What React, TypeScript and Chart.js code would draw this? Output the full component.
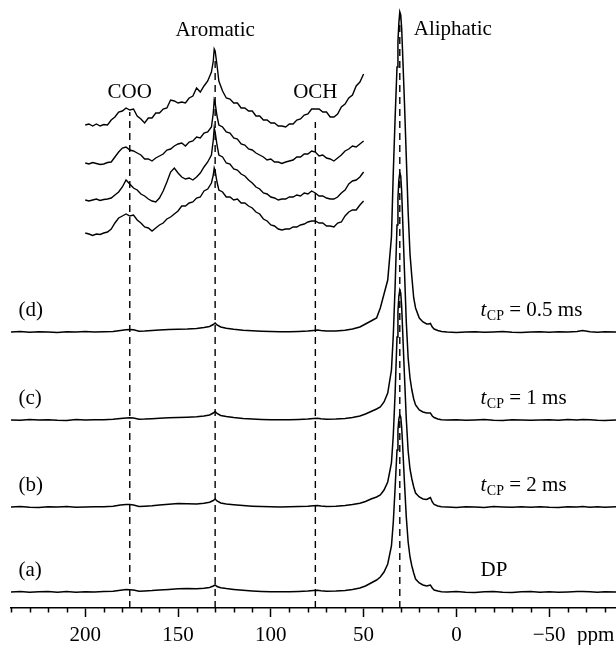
import React, { useEffect, useRef } from 'react';
import { Chart, registerables } from 'chart.js';

Chart.register(...registerables);

const FAMILY = '"Liberation Serif", "Times New Roman", serif';

// Chemical shift grid for the full spectra (ppm, high to low)
const ppm = [
  240, 235, 230, 225, 220, 215, 210, 205, 200, 195,
  190, 185, 181, 178, 176, 174, 171, 168, 164, 160,
  155, 150, 145, 140, 136, 133, 131, 130, 129, 127,
  124, 120, 115, 110, 105, 100, 95, 90, 85, 80,
  77, 75, 73, 70, 65, 60, 56, 52, 49, 46,
  43, 41, 39, 37, 35, 34, 33, 32, 31.5, 31,
  30.5, 30, 29.5, 29, 28, 27, 26, 25, 24, 23,
  22, 20, 18, 16, 15, 14, 13, 12, 10, 8,
  5, 0, -5, -10, -15, -20, -25, -30, -35, -40,
  -45, -50, -55, -60, -65, -68, -72, -76, -80, -86,
];

// (a) DP
const traceA = [
  0, 0.4, -0.3, 0.2, 0.5, -0.2, 0.4, -0.3, 0.3, 0,
  0.4, 0.8, 1.8, 2.5, 2.3, 2.0, 0.8, 1.0, 1.4, 2.0,
  2.6, 3.2, 3.4, 3.3, 3.8, 4.5, 6, 7, 5.5, 4.2,
  3.4, 2.6, 1.8, 1.1, 0.6, 0.3, 0.2, 0.3, 0.5, 0.9,
  1.4, 1.7, 1.2, 0.7, 0.9, 1.5, 2.6, 4, 6, 9,
  12, 15, 20, 28, 46, 70, 105, 142, 162, 173,
  177, 175, 165, 148, 110, 75, 50, 35, 26, 19,
  13, 9, 7, 6, 6.5, 7, 4, 2, 1, 0.3,
  0, 0.4, -0.2, -0.4, 0.2, 0.4, -0.2, -0.4, 0.2, 0.4,
  -0.2, 0.3, -0.3, 0, 0.4, 0.6, 0.2, -0.3, 0.3, 0,
];

// (b) tCP = 2 ms
const traceB = [
  0, 0.4, -0.2, -0.4, 0.3, -0.1, 0.4, -0.3, 0, 0.3,
  0.2, 0.8, 2.0, 2.6, 2.4, 2.0, 0.6, 0.8, 1.2, 2.0,
  2.8, 3.4, 3.2, 3.0, 3.8, 4.8, 6.5, 8, 6, 4,
  3, 2.2, 1.4, 0.8, 0.4, 0.2, 0, 0.2, 0.4, 0.8,
  1.3, 1.6, 1.1, 0.6, 0.8, 1.4, 2.4, 3.8, 5.5, 8,
  10, 12, 17, 25, 44, 72, 115, 170, 195, 211,
  217, 214, 201, 178, 132, 88, 56, 38, 28, 20,
  14, 10, 8, 7.5, 8.5, 9.5, 5, 2.5, 1, 0.3,
  0, -0.4, 0.3, 0, -0.4, 0.4, 0, -0.3, 0.3, -0.2,
  0.3, -0.2, -0.4, 0.3, 0, 0.5, -0.2, 0.3, -0.2, 0.2,
];

// (c) tCP = 1 ms
const traceC = [
  0, -0.3, 0.4, -0.1, 0.3, -0.2, -0.4, 0.4, 0, 0.3,
  0.3, 0.8, 1.5, 2.0, 2.2, 2.0, 0.8, 0.9, 1.3, 1.8,
  2.2, 2.5, 2.8, 3.2, 4.0, 5.0, 7, 8.5, 6.5, 4.5,
  3.4, 2.5, 1.6, 1.0, 0.6, 0.3, 0.2, 0.3, 0.5, 0.9,
  1.4, 1.8, 1.3, 0.8, 0.9, 1.5, 2.5, 4, 6, 8.5,
  11, 13, 18, 27, 50, 85, 135, 195, 222, 240,
  247, 244, 229, 203, 150, 98, 62, 42, 30, 21,
  15, 10, 8, 7, 7, 7, 4, 2.5, 1, 0.3,
  0, 0.3, -0.3, 0, 0.4, -0.2, -0.4, 0.3, 0, -0.3,
  0, 0.3, -0.2, 0.4, 0, 0.6, 0.2, -0.2, -0.4, 0,
];

// (d) tCP = 0.5 ms
const traceD = [
  0, 0.4, -0.3, 0.3, 0, -0.4, 0.3, -0.1, 0.4, 0,
  0.2, 0.6, 1.5, 2.2, 2.4, 2.2, 0.8, 1.0, 1.5, 2.0,
  2.4, 2.8, 3.0, 3.5, 4.5, 5.5, 7.5, 9, 7, 5,
  3.8, 2.8, 1.8, 1.2, 0.7, 0.4, 0.2, 0.3, 0.6, 1.0,
  1.6, 2, 1.4, 0.9, 1.1, 1.8, 3, 5, 8, 11,
  14, 24, 38, 52, 95, 160, 215, 265, 290, 309,
  320, 317, 304, 280, 230, 175, 120, 78, 55, 34,
  24, 14, 10, 8, 8, 8.5, 5, 3, 1.5, 0.5,
  0, -0.4, 0, 0.3, -0.3, 0, 0.4, -0.2, -0.4, 0,
  0.3, -0.2, 0.3, -0.1, 0.4, 1.5, 0.3, -0.2, 0.3, 0,
];

const traceOffsets = [16, 101, 188, 276];
const traceNames = ['(a)', '(b)', '(c)', '(d)'];
const traceConditions = ['DP', '2 ms', '1 ms', '0.5 ms'];

// Expanded region (inset) 200–50 ppm
const insetPpm = [
  200, 198, 196, 194, 192, 190, 188, 186, 184, 182,
  180, 178, 176, 174, 172, 170, 168, 166, 164, 162,
  160, 158, 156, 154, 152, 150, 148, 146, 144, 142,
  140, 138, 136, 134, 132, 131, 130.5, 130, 129,
  128, 126, 124, 122, 120, 118, 116, 114, 112, 110,
  108, 106, 104, 102, 100, 98, 96, 94, 92, 90,
  88, 86, 84, 82, 80, 78, 76, 74, 72, 70,
  68, 66, 64, 62, 60, 58, 56, 54, 52, 50,
];
const inset1 = [
  0, 1, -1, 1, -1, 0.5, 0, 5, 8, 13,
  14, 17, 15, 16, 9, 6, 2, 7, 7, 12,
  12, 16, 17, 25, 24, 22, 23, 22, 27, 29,
  37, 33, 39, 44, 53, 64, 76, 74, 60,
  44, 34, 27, 26, 22, 22, 17, 17, 14, 14,
  9, 9, 5, 5, 2, 2, -1, -1, -2, 1,
  1, 5, 6, 10, 11, 16, 16, 16, 13, 13,
  8, 8, 11, 18, 21, 27, 30, 39, 43, 51,
];
const inset2 = [
  0, -1, 0.5, -0.5, -1.5, -1, 0.5, 1, 6, 11,
  15, 16, 13, 12, 10, 8, 4, 4, 2, 5,
  7, 9, 13, 14, 17, 19, 20, 17, 21, 22,
  26, 25, 30, 31, 36, 50, 63, 60, 47,
  38, 36, 31, 30, 25, 24, 19, 18, 14, 13,
  10, 8, 6, 3, 4, 1, 1, -0.5, 1, 2,
  3, 6, 6, 9, 9, 12, 11, 7, 8, 5,
  4, 2, 5, 8, 12, 14, 17, 16, 19, 22,
];
const inset3 = [
  0, -1, 0, 1, -0.5, 0.5, 1, 2, 5, 8,
  13, 20, 16, 12, 10, 6, 4, 1, -1, -2,
  2, 9, 18, 28, 32, 27, 23, 21, 22, 20,
  23, 27, 33, 38, 45, 60, 72, 68, 55,
  45, 43, 37, 36, 31, 30, 26, 24, 20, 17,
  13, 11, 7, 6, 3, 2, 0, 1, 1, 3,
  3, 5, 4, 7, 6, 9, 7, 4, 4, 2,
  1, 1, 3, 7, 10, 16, 19, 20, 23, 28,
];
const inset4 = [
  0, -1, -2.5, -1, -1.5, 0, 1, 4, 10, 15,
  17, 19, 17, 18, 13, 10, 6, 5, 2, 5,
  8, 10, 14, 16, 19, 22, 27, 27, 30, 31,
  35, 36, 42, 44, 50, 58, 65, 62, 51,
  43, 41, 36, 36, 33, 34, 30, 30, 27, 25,
  21, 19, 14, 12, 8, 7, 4, 3, 4, 4,
  6, 6, 8, 9, 11, 12, 12, 10, 10, 7,
  7, 6, 10, 11, 17, 21, 23, 23, 28, 32,
];
const insetOffsets = [483, 445, 408, 375];

// Dashed guide lines
const markerPpm = [176, 130, 76, 30.5];
const markerTop = [496, 548, 486, 594];

// Region labels
const regionNames = ['COO', 'Aromatic', 'OCH', 'Aliphatic'];
const regionPpm = [176, 130, 76, 23];
const regionLevel = [516, 578, 516, 579];
const regionAlign: CanvasTextAlign[] = ['center', 'center', 'center', 'left'];

// Axis
const tickValues = [200, 150, 100, 50, 0, -50];
const tickLabels = ['200', '150', '100', '50', '0', '\u221250'];
const minorTicks = [240, 230, 220, 210, 190, 180, 170, 160, 140, 130, 120, 110, 90, 80, 70, 60, 40, 30, 20, 10, -10, -20, -30, -40, -60, -70, -80];
const unitLabel = 'ppm';
const unitPpm = -75;

const leftLabelPpm = 236;
const rightLabelPpm = -13;
const labelRise = 22;

const annotate = {
  id: 'annotate',
  afterDraw(chart: any) {
    const { ctx } = chart;
    const x = chart.scales.x;
    const y = chart.scales.y;
    ctx.save();
    ctx.fillStyle = '#000';
    ctx.strokeStyle = '#000';
    const axisY = x.top;
    ctx.lineWidth = 1.5;
    minorTicks.forEach((v) => {
      const px = Math.round(x.getPixelForValue(v)) + 0.5;
      ctx.beginPath();
      ctx.moveTo(px, axisY);
      ctx.lineTo(px, axisY + 4.5);
      ctx.stroke();
    });
    const FONT = `21px ${FAMILY}`;
    ctx.font = FONT;
    ctx.textBaseline = 'middle';
    ctx.textAlign = 'center';
    ctx.fillText(unitLabel, x.getPixelForValue(unitPpm), axisY + 27);

    regionNames.forEach((t, i) => {
      ctx.textAlign = regionAlign[i];
      ctx.fillText(t, x.getPixelForValue(regionPpm[i]), y.getPixelForValue(regionLevel[i]));
    });

    traceNames.forEach((t, i) => {
      const py = y.getPixelForValue(traceOffsets[i] + labelRise);
      ctx.font = FONT;
      ctx.textAlign = 'left';
      ctx.fillText(t, x.getPixelForValue(leftLabelPpm), py);
      const px = x.getPixelForValue(rightLabelPpm);
      const cond = traceConditions[i];
      if (cond === 'DP') {
        ctx.fillText('DP', px, py);
      } else {
        ctx.font = `italic 21px ${FAMILY}`;
        ctx.fillText('t', px, py);
        let w = ctx.measureText('t').width + 0.5;
        ctx.font = `14px ${FAMILY}`;
        ctx.fillText('CP', px + w, py + 6);
        w += ctx.measureText('CP').width;
        ctx.font = FONT;
        ctx.fillText(' = ' + cond, px + w, py);
      }
    });
    ctx.restore();
  },
};

export default function App() {
  const ref = useRef<HTMLCanvasElement>(null);
  useEffect(() => {
    if (!ref.current) return;
    const traces = [traceA, traceB, traceC, traceD];
    const insets = [inset1, inset2, inset3, inset4];
    const datasets: any[] = [];
    traces.forEach((tr, i) => {
      datasets.push({
        data: ppm.map((p, k) => ({ x: p, y: traceOffsets[i] + tr[k] })),
        borderColor: '#000',
        borderWidth: 1.5,
      });
    });
    insets.forEach((tr, i) => {
      datasets.push({
        data: insetPpm.map((p, k) => ({ x: p, y: insetOffsets[i] + tr[k] })),
        borderColor: '#000',
        borderWidth: 1.4,
      });
    });
    markerPpm.forEach((p, i) => {
      datasets.push({
        data: [{ x: p, y: 0 }, { x: p, y: markerTop[i] }],
        borderColor: '#000',
        borderWidth: 1.4,
        borderDash: [7, 5],
      });
    });

    const chart = new Chart(ref.current, {
      type: 'line',
      data: { datasets },
      options: {
        animation: false,
        responsive: false,
        layout: { padding: { left: 11, right: 0, top: 0, bottom: -8 } },
        plugins: { legend: { display: false }, tooltip: { enabled: false } },
        elements: { point: { radius: 0 }, line: { tension: 0 } },
        scales: {
          x: {
            type: 'linear',
            reverse: true,
            min: -86,
            max: 240,
            position: 'bottom',
            afterBuildTicks: (s: any) => {
              s.ticks = tickValues.map((v) => ({ value: v }));
            },
            ticks: {
              callback: (v: any) => {
                const idx = tickValues.indexOf(Number(v));
                return idx >= 0 ? tickLabels[idx] : '';
              },
              color: '#000',
              font: { family: FAMILY, size: 21, lineHeight: 1 },
              padding: 7.5,
              maxRotation: 0,
              autoSkip: false,
            },
            grid: { drawOnChartArea: false, drawTicks: true, tickLength: 9, tickColor: '#000', tickWidth: 1.5 },
            border: { display: true, color: '#000', width: 1.5 },
          },
          y: { display: false, min: 0, max: 608 },
        },
      },
      plugins: [annotate],
    } as any);
    return () => chart.destroy();
  }, []);
  return (
    <div style={{ position: 'fixed', left: 0, top: 0, width: 616, height: 645, background: '#fff' }}>
      <canvas ref={ref} width={616} height={645} style={{ display: 'block' }} />
    </div>
  );
}
